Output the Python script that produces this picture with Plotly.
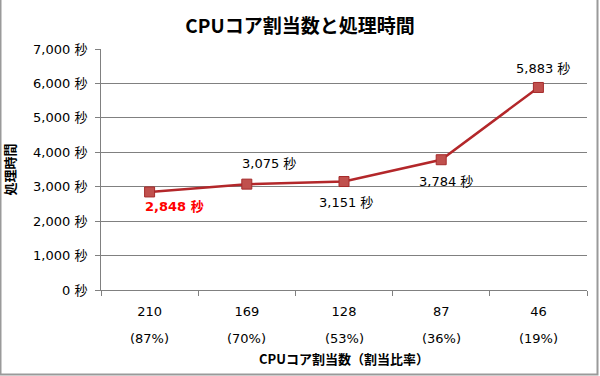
import plotly.graph_objects as go

cores = ["210", "169", "128", "87", "46"]
ratios = ["(87%)", "(70%)", "(53%)", "(36%)", "(19%)"]
seconds = [2848, 3075, 3151, 3784, 5883]
y_ticks = [0, 1000, 2000, 3000, 4000, 5000, 6000, 7000]

title = "CPUコア割当数と処理時間"
x_title = "CPUコア割当数（割当比率）"
y_title = "処理時間"

FONT = "DejaVu Sans, Noto Sans CJK JP"
CJK = "Noto Sans CJK JP"
label_shift_x = [25, 22, 2, 5, 5]
label_shift_y = [-15, 21, -21, -22, 19]
label_color = ["#ff0000", "#000000", "#000000", "#000000", "#000000"]
label_bold = [True, False, False, False, False]

idx = list(range(len(cores)))

fig = go.Figure()
fig.add_trace(go.Scatter(
    x=idx, y=seconds, mode="lines+markers",
    line=dict(color="#b3272a", width=2.5),
    marker=dict(symbol="square", size=10, color="#c0504d",
                line=dict(color="#a52a2a", width=1)),
    hoverinfo="skip", showlegend=False,
))

for i, v, dx, dy, col, b in zip(idx, seconds, label_shift_x, label_shift_y, label_color, label_bold):
    txt = f"{v:,} 秒"
    if b:
        txt = f"<b>{txt}</b>"
    fig.add_annotation(x=i, y=v, text=txt, showarrow=False,
                       xshift=dx, yshift=dy, yanchor="middle",
                       font=dict(family=FONT, size=13, color=col))

for i, r in zip(idx, ratios):
    fig.add_annotation(x=i, y=0, yref="paper", text=r, showarrow=False,
                       yanchor="middle", yshift=-48,
                       font=dict(family=FONT, size=13, color="#000"))

fig.add_annotation(x=0.5, y=0, xref="paper", yref="paper", text=f"<b>{x_title}</b>",
                   showarrow=False, yanchor="middle", yshift=-68,
                   font=dict(family=CJK, size=13, color="#000"))

# outer frame
W, H = 600, 376
L, R, T, B = 101, 13, 49, 86
pw, ph = W - L - R, H - T - B
def px(x): return (x - L) / pw
def py(y): return (H - B - y) / ph
fig.add_shape(type="rect", xref="paper", yref="paper",
              x0=px(0.5), x1=px(597.5), y0=py(374.5), y1=py(-5),
              line=dict(color="#9a9a9a", width=2), fillcolor="rgba(0,0,0,0)",
              layer="below")

fig.update_layout(
    width=W, height=H,
    margin=dict(l=L, r=R, t=T, b=B, autoexpand=False),
    paper_bgcolor="white", plot_bgcolor="white",
    font=dict(family=FONT, size=13, color="#000"),
    title=dict(text=f"<b>{title}</b>", x=0.5, xanchor="center", xref="container",
               y=1 - 26 / H, yanchor="middle",
               font=dict(family=CJK, size=19, color="#000")),
    xaxis=dict(range=[-0.5, len(cores) - 0.5], tickmode="array", tickvals=idx, ticktext=cores,
               ticks="", showline=True, linecolor="#808080", linewidth=1,
               showgrid=False, zeroline=False, ticklabelstandoff=9, automargin=False,
               minor=dict(tick0=-0.5, dtick=1, ticks="outside", ticklen=5,
                          tickcolor="#808080", showgrid=False),
               tickfont=dict(family=FONT, size=13)),
    yaxis=dict(range=[0, 7000], tickmode="array", tickvals=y_ticks,
               ticktext=[f"{v:,} 秒" for v in y_ticks], automargin=False,
               ticks="outside", ticklen=5, tickcolor="#808080",
               showline=True, linecolor="#808080", linewidth=1,
               gridcolor="#808080", gridwidth=1, zeroline=False,
               ticklabelstandoff=5,
               tickfont=dict(family=FONT, size=13),
               title=dict(text=f"<b>{y_title}</b>", standoff=14,
                          font=dict(family=CJK, size=13))),
)

fig.write_html("out.html", config={"displayModeBar": False},
               post_script="document.body.style.margin='0';")
